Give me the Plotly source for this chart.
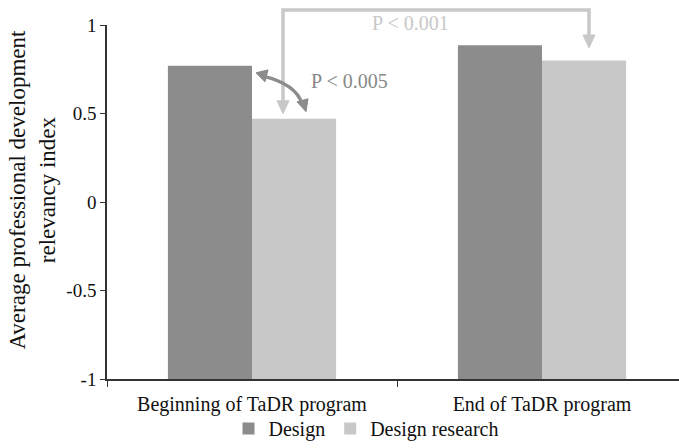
import plotly.graph_objects as go

categories = ["Beginning of TaDR program", "End of TaDR program"]
design = [0.77, 0.885]
design_research = [0.47, 0.80]
series_names = ["Design", "Design research"]
y_ticks = [-1, -0.5, 0, 0.5, 1]
y_ticktext = ["-1", "-0.5", "0", "0.5", "1"]
axis_base = -1  # category axis crosses at -1, bars grow from there

W, H = 679, 448
L, T, B = 107, 25, 68
PW = W - L
PH = H - T - B

def px(x):
    return (x - L) / PW

def py(y):
    return (H - B - y) / PH

DARK = "#8c8c8c"
LIGHT = "#c8c8c8"
FONT = "Liberation Serif"

fig = go.Figure()
fig.add_trace(go.Bar(x=categories, y=[v - axis_base for v in design], base=axis_base,
                     name=series_names[0], marker_color=DARK, marker_line_width=0))
fig.add_trace(go.Bar(x=categories, y=[v - axis_base for v in design_research], base=axis_base,
                     name=series_names[1], marker_color=LIGHT, marker_line_width=0))

shapes = []
shapes.append(dict(type="path", xref="paper", yref="paper",
                   path=f"M {px(283)} {py(101)} L {px(283)} {py(10)} L {px(589)} {py(10)} L {px(589)} {py(36)}",
                   line=dict(color=LIGHT, width=3.5)))
for tipx, tipy in [(283, 114), (589, 48)]:
    shapes.append(dict(type="path", xref="paper", yref="paper",
                       path=f"M {px(tipx-6)} {py(tipy-13)} L {px(tipx+6)} {py(tipy-13)} L {px(tipx)} {py(tipy)} Z",
                       fillcolor=LIGHT, line=dict(color=LIGHT, width=1)))
shapes.append(dict(type="path", xref="paper", yref="paper",
                   path=f"M {px(262)} {py(76)} Q {px(296)} {py(84)} {px(302)} {py(104)}",
                   line=dict(color=DARK, width=3.5)))
shapes.append(dict(type="path", xref="paper", yref="paper",
                   path=f"M {px(256)} {py(73)} L {px(268)} {py(70)} L {px(265)} {py(82)} Z",
                   fillcolor=DARK, line=dict(color=DARK, width=1)))
shapes.append(dict(type="path", xref="paper", yref="paper",
                   path=f"M {px(306)} {py(112)} L {px(297)} {py(102)} L {px(308)} {py(99)} Z",
                   fillcolor=DARK, line=dict(color=DARK, width=1)))

annotations = [
    dict(text="P < 0.001", xref="paper", yref="paper", x=px(410), y=py(23),
         xanchor="center", yanchor="middle",
         showarrow=False, font=dict(family=FONT, size=20, color=LIGHT)),
    dict(text="P < 0.005", xref="paper", yref="paper", x=px(349), y=py(81),
         xanchor="center", yanchor="middle",
         showarrow=False, font=dict(family=FONT, size=20, color="#888888")),
    dict(text="Average professional development<br>relevancy index", xref="paper", yref="paper",
         x=px(33), y=py(190), xanchor="center", yanchor="middle", textangle=-90, showarrow=False,
         font=dict(family=FONT, size=23, color="#111111")),
]

fig.update_layout(
    width=W, height=H,
    margin=dict(l=L, r=0, t=T, b=B),
    paper_bgcolor="white", plot_bgcolor="white",
    barmode="group", bargap=0.42, bargroupgap=0,
    font=dict(family=FONT, size=19, color="#111111"),
    shapes=shapes, annotations=annotations,
    legend=dict(orientation="h", x=px(366), xanchor="center", y=py(430), yanchor="middle",
                font=dict(family=FONT, size=20), itemwidth=30, borderwidth=0,
                bgcolor="rgba(0,0,0,0)"),
    xaxis=dict(range=[-0.5, -0.5 + PW / 290], showline=True, linecolor="#333333", linewidth=1.5,
               ticks="outside", tickson="boundaries", ticklen=6, tickcolor="#333333",
               ticklabelstandoff=6,
               showgrid=False, tickfont=dict(family=FONT, size=20), automargin=False),
    yaxis=dict(range=[-1, 1], tickvals=y_ticks, ticktext=y_ticktext, showline=True,
               linecolor="#333333", linewidth=1.5, ticks="outside", ticklen=5, tickcolor="#333333",
               showgrid=False, zeroline=False, tickfont=dict(family=FONT, size=19), automargin=False),
)

fig.write_html("out.html", config={"displayModeBar": False},
               post_script="document.body.style.margin='0';document.body.style.overflow='hidden';")
